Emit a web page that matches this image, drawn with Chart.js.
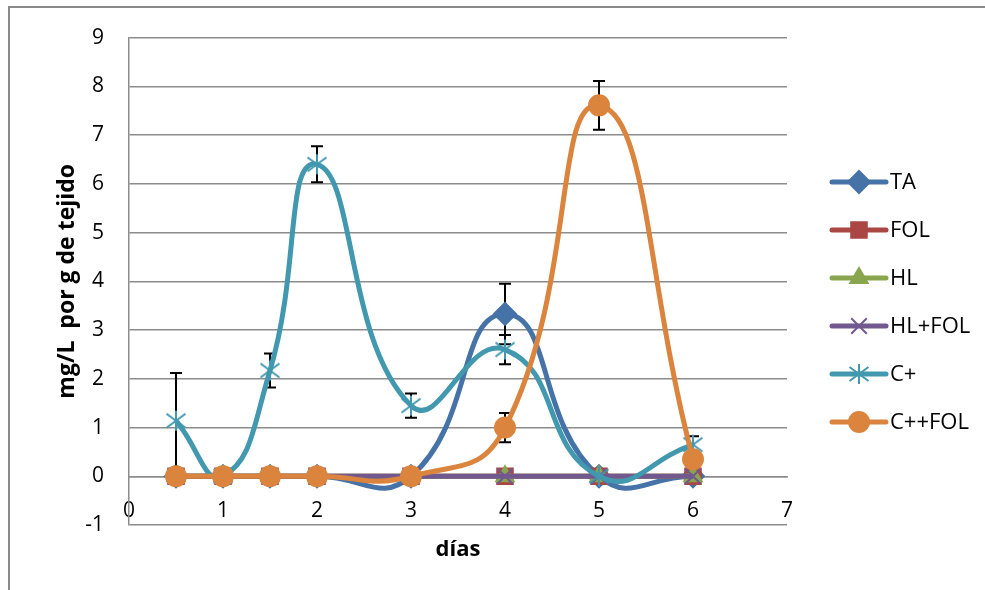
<!DOCTYPE html>
<html>
<head>
<meta charset="utf-8">
<script src="https://cdn.jsdelivr.net/npm/chart.js@4.4.1/dist/chart.umd.min.js"></script>
<style>
  html, body { margin: 0; padding: 0; background: #fff; overflow: hidden; }
  #wrap { position: relative; width: 985px; height: 590px; overflow: hidden; }
  #wrap canvas { position: absolute; left: 0; top: 0; }
  #frame { position: absolute; left: 8px; top: 6px; width: 1200px; height: 800px;
           border: 2px solid #8a8a8a; pointer-events: none; }
</style>
</head>
<body>
<div id="wrap">
  <canvas id="chart" width="985" height="590"></canvas>
  <div id="frame"></div>
</div>
<script>
// Sampling days and measured concentrations (mg/L per g of tissue)
const days = [0.5, 1, 1.5, 2, 3, 4, 5, 6];
const seriesNames = ['TA', 'FOL', 'HL', 'HL+FOL', 'C+', 'C++FOL'];

const ta       = [0, 0, 0, 0, 0, 3.33, 0, 0];
const fol      = [0, 0, 0, 0, 0, 0, 0, 0];
const hl       = [0, 0, 0, 0, 0, 0, 0, 0];
const hlFol    = [0, 0, 0, 0, 0, 0, 0, 0];
const cPlus    = [1.14, 0, 2.17, 6.4, 1.45, 2.6, 0, 0.65];
const cPlusFol = [0, 0, 0, 0, 0, 1.0, 7.61, 0.35];

// Standard deviations shown as error bars
const taErr       = [0, 0, 0, 0, 0, 0.62, 0, 0];
const folErr      = [0, 0, 0, 0, 0, 0, 0, 0];
const hlErr       = [0, 0, 0, 0, 0, 0, 0, 0];
const hlFolErr    = [0, 0, 0, 0, 0, 0, 0, 0];
const cPlusErr    = [0.98, 0, 0.35, 0.37, 0.25, 0.3, 0, 0.17];
const cPlusFolErr = [0, 0, 0, 0, 0, 0.3, 0.5, 0];

// Axis ranges
const xRange = { min: 0, max: 7, step: 1 };
const yRange = { min: -1, max: 9, step: 1 };

const yTitle = 'mg/L  por g de tejido';
const xTitle = 'días';

const colors = ['#4572A7', '#AA4643', '#89A54E', '#71588F', '#4198AF', '#DB843D'];
const FONT = "'Open Sans', 'Liberation Sans', sans-serif";

// Asterisk marker (X with a vertical stroke)
function asteriskMarker(color, size) {
  const c = document.createElement('canvas');
  c.width = size; c.height = size;
  const g = c.getContext('2d');
  const h = size / 2, r = size / 2 - 1;
  g.strokeStyle = color; g.lineWidth = 2;
  g.beginPath();
  g.moveTo(h - r * 0.95, h - r * 0.7); g.lineTo(h + r * 0.95, h + r * 0.7);
  g.moveTo(h - r * 0.95, h + r * 0.7); g.lineTo(h + r * 0.95, h - r * 0.7);
  g.moveTo(h, h - r); g.lineTo(h, h + r);
  g.stroke();
  return c;
}

const markerDefs = [
  { style: 'rectRot',  radius: 11 },
  { style: 'rect',     radius: 11 },
  { style: 'triangle', radius: 10 },
  { style: 'crossRot', radius: 11 },
  { style: asteriskMarker(colors[4], 22), radius: 11 },
  { style: 'circle',   radius: 10 }
];

const values = [ta, fol, hl, hlFol, cPlus, cPlusFol];
const errors = [taErr, folErr, hlErr, hlFolErr, cPlusErr, cPlusFolErr];

const datasets = seriesNames.map((name, i) => ({
  label: name,
  data: days.map((d, k) => ({ x: d, y: values[i][k] })),
  errors: errors[i],
  borderColor: colors[i],
  backgroundColor: colors[i],
  borderWidth: 5,
  tension: 0.5,
  pointStyle: markerDefs[i].style,
  pointRadius: markerDefs[i].radius,
  pointBorderWidth: 2,
  pointBorderColor: colors[i],
  pointBackgroundColor: colors[i],
  order: seriesNames.length - i
}));

// Vertical error bars with caps, drawn just before each series
const errorBars = {
  id: 'errorBars',
  beforeDatasetDraw(chart, args) {
    const ds = chart.data.datasets[args.index];
    if (!ds.errors) return;
    const xs = chart.scales.x, ys = chart.scales.y;
    const ctx = chart.ctx;
    ctx.save();
    ctx.strokeStyle = '#000';
    ctx.lineWidth = 2;
    ds.data.forEach((p, k) => {
      const e = ds.errors[k];
      if (!e) return;
      const px = xs.getPixelForValue(p.x);
      const top = ys.getPixelForValue(p.y + e);
      const bot = ys.getPixelForValue(p.y - e);
      ctx.beginPath();
      ctx.moveTo(px, top); ctx.lineTo(px, bot);
      ctx.moveTo(px - 6, top); ctx.lineTo(px + 6, top);
      ctx.moveTo(px - 6, bot); ctx.lineTo(px + 6, bot);
      ctx.stroke();
    });
    ctx.restore();
  }
};

// Legend to the right of the plot: line sample with marker, then the series name
const sideLegend = {
  id: 'sideLegend',
  afterDraw(chart) {
    const ctx = chart.ctx;
    const area = chart.chartArea;
    const x0 = area.right + 45;
    const x1 = area.right + 99;
    const xm = (x0 + x1) / 2;
    const yStart = 182, yStep = 48;
    ctx.save();
    chart.data.datasets.forEach((ds, i) => {
      const y = yStart + i * yStep;
      ctx.strokeStyle = ds.borderColor;
      ctx.lineWidth = 5;
      ctx.lineCap = 'round';
      ctx.beginPath(); ctx.moveTo(x0, y); ctx.lineTo(x1, y); ctx.stroke();
      ctx.lineCap = 'butt';
      ctx.fillStyle = ds.pointBackgroundColor;
      ctx.strokeStyle = ds.pointBorderColor;
      ctx.lineWidth = 2;
      Chart.helpers.drawPoint(ctx, {
        pointStyle: ds.pointStyle, radius: ds.pointRadius, rotation: 0, borderWidth: 2
      }, xm, y);
      ctx.fillStyle = '#000';
      ctx.font = '22px ' + FONT;
      ctx.textAlign = 'left';
      ctx.textBaseline = 'middle';
      ctx.fillText(ds.label, x1 + 4, y + 1);
    });
    ctx.restore();
  }
};

new Chart(document.getElementById('chart'), {
  type: 'line',
  data: { datasets },
  plugins: [errorBars, sideLegend],
  options: {
    responsive: false,
    animation: false,
    layout: { padding: { top: 22, bottom: 65, left: 0, right: 198 } },
    plugins: {
      tooltip: { enabled: false },
      legend: { display: false }
    },
    scales: {
      x: {
        type: 'linear',
        position: { y: 0 },
        min: xRange.min, max: xRange.max,
        grid: { display: false, drawTicks: false },
        border: { display: true, color: '#8c8c8c', width: 1.5 },
        ticks: { stepSize: xRange.step, padding: 22, color: '#000', font: { family: FONT, size: 21 } },
        title: { display: true, text: xTitle, color: '#000', padding: { top: -9, bottom: 0 },
                 font: { family: FONT, size: 22, weight: 'bold' } }
      },
      y: {
        type: 'linear',
        position: 'left',
        min: yRange.min, max: yRange.max,
        afterFit(scale) { scale.width = 129; },
        grid: { color: '#8c8c8c', lineWidth: 1.5, drawTicks: false },
        border: { display: true, color: '#8c8c8c', width: 1.5 },
        ticks: { stepSize: yRange.step, padding: 25, color: '#000', font: { family: FONT, size: 21 } },
        title: { display: true, text: yTitle, color: '#000', padding: { top: 54, bottom: 0 },
                 font: { family: FONT, size: 23, weight: 'bold' } }
      }
    }
  }
});
</script>
</body>
</html>
